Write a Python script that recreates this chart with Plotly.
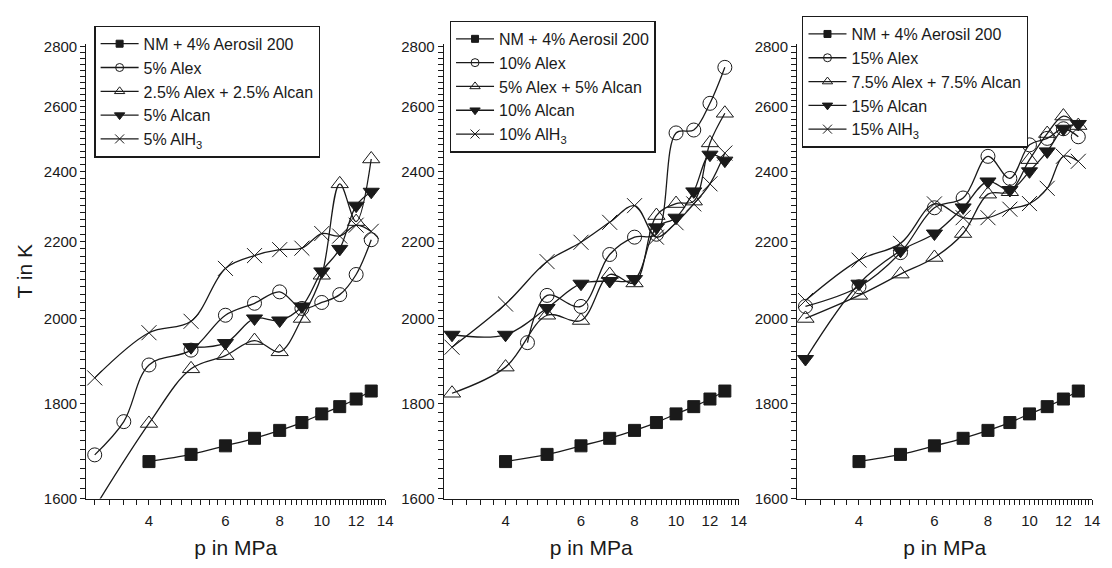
import math
import plotly.graph_objects as go

# ---------------------------------------------------------------
# Combustion temperature T (K) versus pressure p (MPa)
# ---------------------------------------------------------------

# Reference mixture (same in all three panels)
P_AEROSIL = [4, 5, 6, 7, 8, 9, 10, 11, 12, 13]
T_AEROSIL = [1675, 1690, 1708, 1724, 1741, 1758, 1777, 1793, 1810, 1828]

# Panel 1: 5 % additive
P1_ALEX = [3, 3.5, 4, 5, 6, 7, 8, 9, 10, 11, 12, 13]
T1_ALEX = [1689, 1760, 1888, 1923, 2008, 2038, 2067, 2025, 2040, 2060, 2112, 2205]
P1_MIX = [3, 4, 5, 6, 7, 8, 9, 10, 11, 12, 13]
T1_MIX = [1582, 1756, 1879, 1910, 1946, 1919, 2000, 2110, 2363, 2255, 2437]
P1_ALCAN = [5, 6, 7, 8, 9, 10, 11, 12, 13]
T1_ALCAN = [1930, 1940, 2000, 1995, 2030, 2120, 2180, 2300, 2340]
P1_ALH3 = [3, 4, 5, 6, 7, 8, 9, 10, 11, 12, 13]
T1_ALH3 = [1858, 1965, 1993, 2128, 2162, 2178, 2182, 2222, 2215, 2245, 2228]

# Panel 2: 10 % additive
P2_ALEX = [4.5, 5, 6, 7, 8, 9, 10, 11, 12, 13]
T2_ALEX = [1941, 2058, 2030, 2165, 2212, 2220, 2517, 2526, 2611, 2730]
P2_MIX = [3, 4, 5, 6, 7, 8, 9, 10, 11, 12, 13]
T2_MIX = [1823, 1883, 2008, 1995, 2112, 2090, 2272, 2306, 2313, 2486, 2579]
P2_ALCAN = [3, 4, 5, 6, 7, 8, 9, 10, 11, 12, 13]
T2_ALCAN = [1960, 1960, 2026, 2088, 2095, 2100, 2239, 2266, 2341, 2450, 2432]
P2_ALH3 = [3, 4, 5, 6, 7, 8, 9, 10, 11, 12, 13]
T2_ALH3 = [1930, 2036, 2146, 2198, 2253, 2300, 2212, 2252, 2305, 2363, 2455]

# Panel 3: 15 % additive
P3_ALEX = [3, 4, 5, 6, 7, 8, 9, 10, 11, 12, 13]
T3_ALEX = [2030, 2080, 2170, 2294, 2322, 2445, 2379, 2480, 2500, 2530, 2505]
P3_MIX = [3, 4, 5, 6, 7, 8, 9, 10, 11, 12, 13]
T3_MIX = [2000, 2058, 2113, 2157, 2222, 2333, 2340, 2435, 2515, 2570, 2540]
P3_ALCAN = [3, 4, 5, 6, 7, 8, 9, 10, 11, 12, 13]
T3_ALCAN = [1902, 2088, 2175, 2222, 2295, 2370, 2345, 2400, 2460, 2530, 2545]
P3_ALH3 = [3, 4, 5, 6, 7, 8, 9, 10, 11, 12, 13]
T3_ALH3 = [2045, 2150, 2195, 2305, 2266, 2266, 2290, 2306, 2350, 2445, 2430]

# Legend labels
NAMES_1 = ["NM + 4% Aerosil 200", "5% Alex", "2.5% Alex + 2.5% Alcan",
           "5% Alcan", "5% AlH<sub>3</sub>"]
NAMES_2 = ["NM + 4% Aerosil 200", "10% Alex", "5% Alex + 5% Alcan",
           "10% Alcan", "10% AlH<sub>3</sub>"]
NAMES_3 = ["NM + 4% Aerosil 200", "15% Alex", "7.5% Alex + 7.5% Alcan",
           "15% Alcan", "15% AlH<sub>3</sub>"]

# Axis ticks (labelled values and the unlabelled minor positions)
X_TICKS = [4, 6, 8, 10, 12, 14]
Y_TICKS = [1600, 1800, 2000, 2200, 2400, 2600, 2800]
X_MINOR = [3.0, 3.25, 3.5, 3.75, 4.25, 4.5, 4.75, 5.0, 5.25, 5.5, 5.75,
           6.25, 6.5, 6.75, 7.0, 7.25, 7.5, 7.75, 8.25, 8.5, 8.75, 9.0,
           9.25, 9.5, 9.75, 10.25, 10.5, 10.75, 11.0, 11.25, 11.5, 11.75,
           12.25, 12.5, 12.75, 13.0, 13.25, 13.5, 13.75]
Y_MINOR = [t for t in range(1620, 2800, 20) if t % 200 != 0]

# ---------------------------------------------------------------
FONT = "Liberation Sans, Arial, sans-serif"
INK = "#1a1a1a"
W, H = 1112, 568

# marker styles: plot size and (smaller) legend size
STYLES = [
    dict(symbol="square", color=INK, size=12, lsize=7),
    dict(symbol="circle-open", color=INK, size=14, lsize=8),
    dict(symbol="triangle-up-open", color=INK, size=15, lsize=9),
    dict(symbol="triangle-down", color=INK, size=14, lsize=9),
    dict(symbol="x-thin-open", color=INK, size=15, lsize=9),
]

panels = [
    (NAMES_1, [(P_AEROSIL, T_AEROSIL), (P1_ALEX, T1_ALEX), (P1_MIX, T1_MIX),
               (P1_ALCAN, T1_ALCAN), (P1_ALH3, T1_ALH3)]),
    (NAMES_2, [(P_AEROSIL, T_AEROSIL), (P2_ALEX, T2_ALEX), (P2_MIX, T2_MIX),
               (P2_ALCAN, T2_ALCAN), (P2_ALH3, T2_ALH3)]),
    (NAMES_3, [(P_AEROSIL, T_AEROSIL), (P3_ALEX, T3_ALEX), (P3_MIX, T3_MIX),
               (P3_ALCAN, T3_ALCAN), (P3_ALH3, T3_ALH3)]),
]

# pixel geometry of the three plot areas
X_PIX = [(87, 388), (447, 744), (803, 1100)]
Y_PIX = (39, 505)          # top, bottom
LEGEND_POS = [(95, 20), (453, 15), (808, 10)]

y_range = [math.log10(1600), math.log10(2810)]
x_range = [math.log10(2.87), math.log10(14)]


def tick_set(major, minor):
    """All tick positions, with text only on the labelled ones."""
    vals = sorted(set(major) | set(minor))
    text = [str(v) if v in major else "" for v in vals]
    return vals, text


x_vals, x_text = tick_set(X_TICKS, X_MINOR)
y_vals, y_text = tick_set(Y_TICKS, Y_MINOR)

fig = go.Figure()

for i, (names, series) in enumerate(panels):
    n = i + 1
    sx = "" if n == 1 else str(n)
    for (px, ty), st in zip(series, STYLES):
        fig.add_trace(go.Scatter(
            x=px, y=ty, mode="lines+markers", xaxis=f"x{sx}", yaxis=f"y{sx}",
            line=dict(color=INK, width=1.3, shape="spline", smoothing=1.0),
            marker=dict(symbol=st["symbol"], size=st["size"], color=st["color"],
                        line=dict(color=INK, width=1)),
            showlegend=False, hoverinfo="x+y",
        ))
    # legend entries with small symbols
    for name, st in zip(names, STYLES):
        fig.add_trace(go.Scatter(
            x=[None], y=[None], mode="lines+markers",
            xaxis=f"x{sx}", yaxis=f"y{sx}",
            name=name, legend=f"legend{sx}",
            line=dict(color=INK, width=1.3),
            marker=dict(symbol=st["symbol"], size=st["lsize"], color=st["color"],
                        line=dict(color=INK, width=1)),
        ))

layout = dict(
    width=W, height=H,
    margin=dict(l=0, r=0, t=0, b=0),
    paper_bgcolor="white", plot_bgcolor="white",
    font=dict(family=FONT, color=INK, size=15),
    showlegend=True,
)

for i in range(3):
    n = i + 1
    sx = "" if n == 1 else str(n)
    x0, x1 = X_PIX[i]
    layout[f"xaxis{sx}"] = dict(
        type="log", range=x_range, domain=[x0 / W, x1 / W], anchor=f"y{sx}",
        tickmode="array", tickvals=x_vals, ticktext=x_text,
        ticks="outside", ticklen=5, tickwidth=1.3, tickcolor=INK,
        ticklabelstandoff=3,
        showline=True, linecolor=INK, linewidth=1.3,
        showgrid=False, zeroline=False,
        tickfont=dict(size=15, family=FONT, color=INK),
        title=dict(text="p in MPa", font=dict(size=21, family=FONT, color=INK),
                   standoff=12),
    )
    layout[f"yaxis{sx}"] = dict(
        type="log", range=y_range,
        domain=[1 - Y_PIX[1] / H, 1 - Y_PIX[0] / H], anchor=f"x{sx}",
        tickmode="array", tickvals=y_vals, ticktext=y_text,
        ticks="outside", ticklen=5, tickwidth=1.3, tickcolor=INK,
        showline=True, linecolor=INK, linewidth=1.3,
        showgrid=False, zeroline=False,
        tickfont=dict(size=15, family=FONT, color=INK),
    )
    lx, ly = LEGEND_POS[i]
    layout[f"legend{sx}"] = dict(
        x=lx / W, y=1 - ly / H, xanchor="left", yanchor="top",
        xref="paper", yref="paper",
        bordercolor=INK, borderwidth=1.3, bgcolor="white",
        font=dict(size=16, family=FONT, color=INK),
        tracegroupgap=0, itemwidth=38,
    )

layout["yaxis"]["title"] = dict(text="T in K",
                                font=dict(size=21, family=FONT, color=INK),
                                standoff=5)

fig.update_layout(**layout)
fig.write_html("out.html")
